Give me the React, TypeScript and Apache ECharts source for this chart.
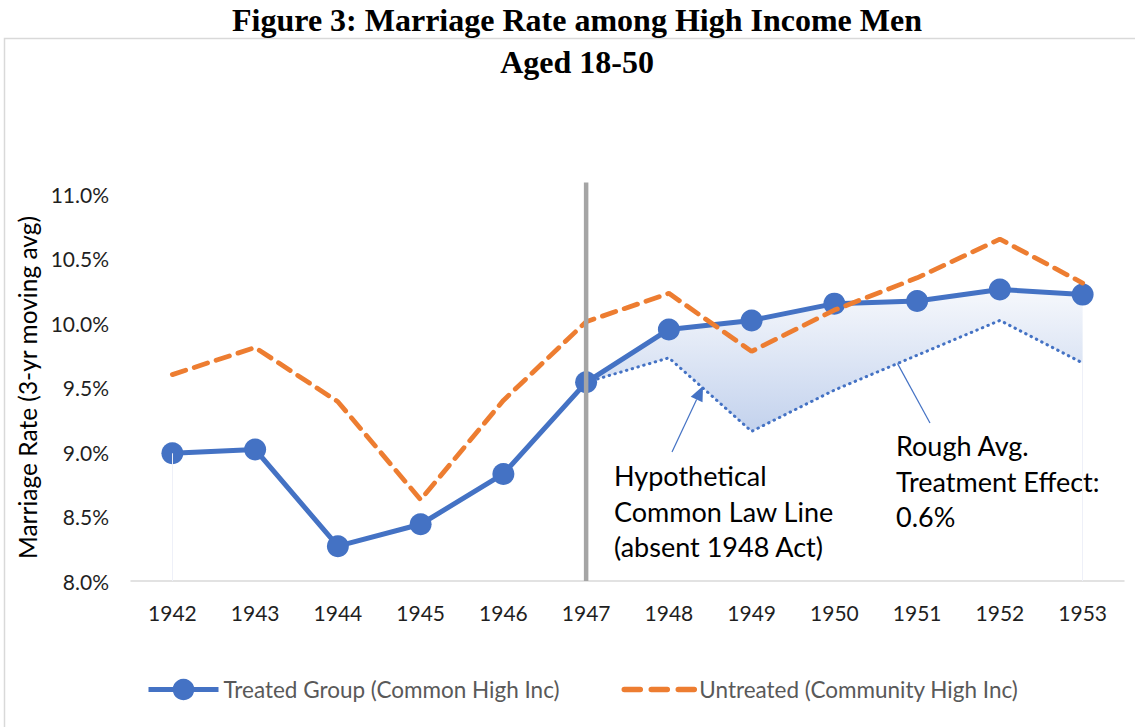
import React, { useEffect, useRef } from "react";
import * as echarts from "echarts";

const years = ["1942", "1943", "1944", "1945", "1946", "1947", "1948", "1949", "1950", "1951", "1952", "1953"];
const treated = [8.99, 9.02, 8.27, 8.44, 8.83, 9.54, 9.95, 10.02, 10.15, 10.17, 10.26, 10.22];
const untreated = [9.6, 9.81, 9.39, 8.63, 9.4, 10.01, 10.23, 9.78, 10.1, 10.35, 10.65, 10.31];
const hypothetical: (number | string)[] = ["-", "-", "-", "-", "-", 9.54, 9.73, 9.16, 9.48, 9.75, 10.02, 9.69];
const yTicks = { min: 8, max: 11, interval: 0.5 };
const actYear = "1947";
const actLineTop = 11.09;

const BLUE = "#4472C4";
const ORANGE = "#ED7D31";
const FONT = "Lato";

function arrow(x1: number, y1: number, x2: number, y2: number) {
  const dx = x2 - x1;
  const dy = y2 - y1;
  const len = Math.sqrt(dx * dx + dy * dy);
  const ux = dx / len;
  const uy = dy / len;
  const hl = 15;
  const hw = 6.5;
  const bx = x2 - ux * hl;
  const by = y2 - uy * hl;
  return [
    { type: "line", shape: { x1, y1, x2: bx, y2: by }, style: { stroke: BLUE, lineWidth: 1.2 }, silent: true },
    {
      type: "polygon",
      shape: { points: [[x2, y2], [bx - uy * hw, by + ux * hw], [bx + uy * hw, by - ux * hw]] },
      style: { fill: BLUE },
      silent: true,
    },
  ];
}

export default function App() {
  const ref = useRef<HTMLDivElement>(null);
  useEffect(() => {
    if (!ref.current) return;
    const chart = echarts.init(ref.current, undefined, { renderer: "svg" });
    const gap = treated.map((v, i) => (typeof hypothetical[i] === "number" ? +(v - (hypothetical[i] as number)).toFixed(4) : "-"));
    const baseGraphic: any[] = [
      { type: "rect", shape: { x: 4.5, y: 38.5, width: 1300, height: 900 }, style: { fill: "none", stroke: "#d9d9d9", lineWidth: 1.5 }, silent: true, z: -1 },
      {
        type: "text",
        left: 614,
        top: 458,
        style: { text: "Hypothetical\nCommon Law Line\n(absent 1948 Act)", font: `27px ${FONT}`, lineHeight: 35.5, fill: "#000" },
        silent: true,
      },
      {
        type: "text",
        left: 896,
        top: 428,
        style: { text: "Rough Avg.\nTreatment Effect:\n0.6%", font: `27px ${FONT}`, lineHeight: 35.5, fill: "#000" },
        silent: true,
      },
      ...arrow(672, 452, 703, 386),
      ...arrow(930, 423, 889, 348),
    ];
    chart.setOption({
      animation: false,
      backgroundColor: "#ffffff",
      title: {
        text: "Figure 3: Marriage Rate among High Income Men\nAged 18-50",
        left: 577,
        top: -1,
        padding: 0,
        textAlign: "center",
        textStyle: { fontFamily: "Liberation Serif", fontWeight: "bold", fontSize: 32, lineHeight: 42, color: "#000" },
      },
      graphic: baseGraphic,
      legend: {
        data: [
          { name: "Treated Group (Common High Inc)", lineStyle: { width: 5, color: BLUE } },
          {
            name: "Untreated (Community High Inc)",
            itemStyle: { opacity: 0 },
            lineStyle: { width: 5.5, color: ORANGE, type: [16, 11], cap: "round" },
          },
        ],
        left: 146,
        top: 678,
        padding: 0,
        itemWidth: 70,
        itemHeight: 27,
        itemGap: 62,
        textStyle: { fontFamily: FONT, fontSize: 22.5, color: "#595959" },
      },
      grid: { left: 131, right: 11, top: 194, height: 387 },
      xAxis: {
        type: "category",
        data: years,
        boundaryGap: true,
        axisLine: { lineStyle: { color: "#d9d9d9", width: 1.5 } },
        axisTick: { show: false },
        axisLabel: { fontFamily: FONT, fontSize: 21, color: "#1f1f1f", margin: 21 },
      },
      yAxis: {
        type: "value",
        min: yTicks.min,
        max: yTicks.max,
        interval: yTicks.interval,
        name: "Marriage Rate (3-yr moving avg)",
        nameLocation: "middle",
        nameGap: 84,
        nameTextStyle: { fontFamily: FONT, fontSize: 24.5, color: "#000" },
        axisLine: { show: false },
        axisTick: { show: false },
        splitLine: { show: false },
        axisLabel: { fontFamily: FONT, fontSize: 21, color: "#1f1f1f", margin: 22, formatter: (v: number) => v.toFixed(1) + "%" },
      },
      series: [
        {
          name: "hypo",
          type: "line",
          data: hypothetical,
          stack: "gap",
          symbol: "none",
          lineStyle: { color: BLUE, width: 3, type: [0.5, 5.5], cap: "round" },
          z: 1,
          markLine: {
            silent: true,
            symbol: "none",
            label: { show: false },
            lineStyle: { color: "#eef0f8", width: 1, type: "solid" },
            data: [
              [{ coord: [years[0], treated[0]] }, { coord: [years[0], yTicks.min] }],
              [{ coord: [years[11], hypothetical[11]] }, { coord: [years[11], yTicks.min] }],
            ],
          },
        },
        {
          name: "gapFill",
          type: "line",
          data: gap,
          stack: "gap",
          symbol: "none",
          lineStyle: { width: 0, opacity: 0 },
          areaStyle: {
            color: new echarts.graphic.LinearGradient(0, 0, 0, 1, [
              { offset: 0, color: "#f6f8fc" },
              { offset: 1, color: "#c3d2ed" },
            ]),
            opacity: 1,
          },
          z: 0,
        },
        {
          name: "Treated Group (Common High Inc)",
          type: "line",
          data: treated,
          symbol: "circle",
          symbolSize: 22,
          itemStyle: { color: BLUE },
          lineStyle: { color: BLUE, width: 5 },
          z: 3,
        },
        {
          name: "Untreated (Community High Inc)",
          type: "line",
          data: untreated,
          symbol: "none",
          itemStyle: { color: ORANGE },
          lineStyle: { color: ORANGE, width: 4.8, type: [14, 9], cap: "round" },
          z: 4,
        },
      ],
    });
    const bottom = chart.convertToPixel({ xAxisIndex: 0, yAxisIndex: 0 }, [actYear, yTicks.min]) as number[];
    const top = chart.convertToPixel({ xAxisIndex: 0, yAxisIndex: 0 }, [actYear, actLineTop]) as number[];
    if (bottom && top) {
      chart.setOption({
        graphic: [
          ...baseGraphic,
          {
            type: "line",
            shape: { x1: bottom[0], y1: bottom[1], x2: top[0], y2: top[1] },
            style: { stroke: "#a5a5a5", lineWidth: 4.5 },
            silent: true,
            z: 100,
          },
        ],
      });
    }
    return () => chart.dispose();
  }, []);
  return <div ref={ref} style={{ position: "fixed", left: 0, top: 0, width: 1135, height: 727 }} />;
}
